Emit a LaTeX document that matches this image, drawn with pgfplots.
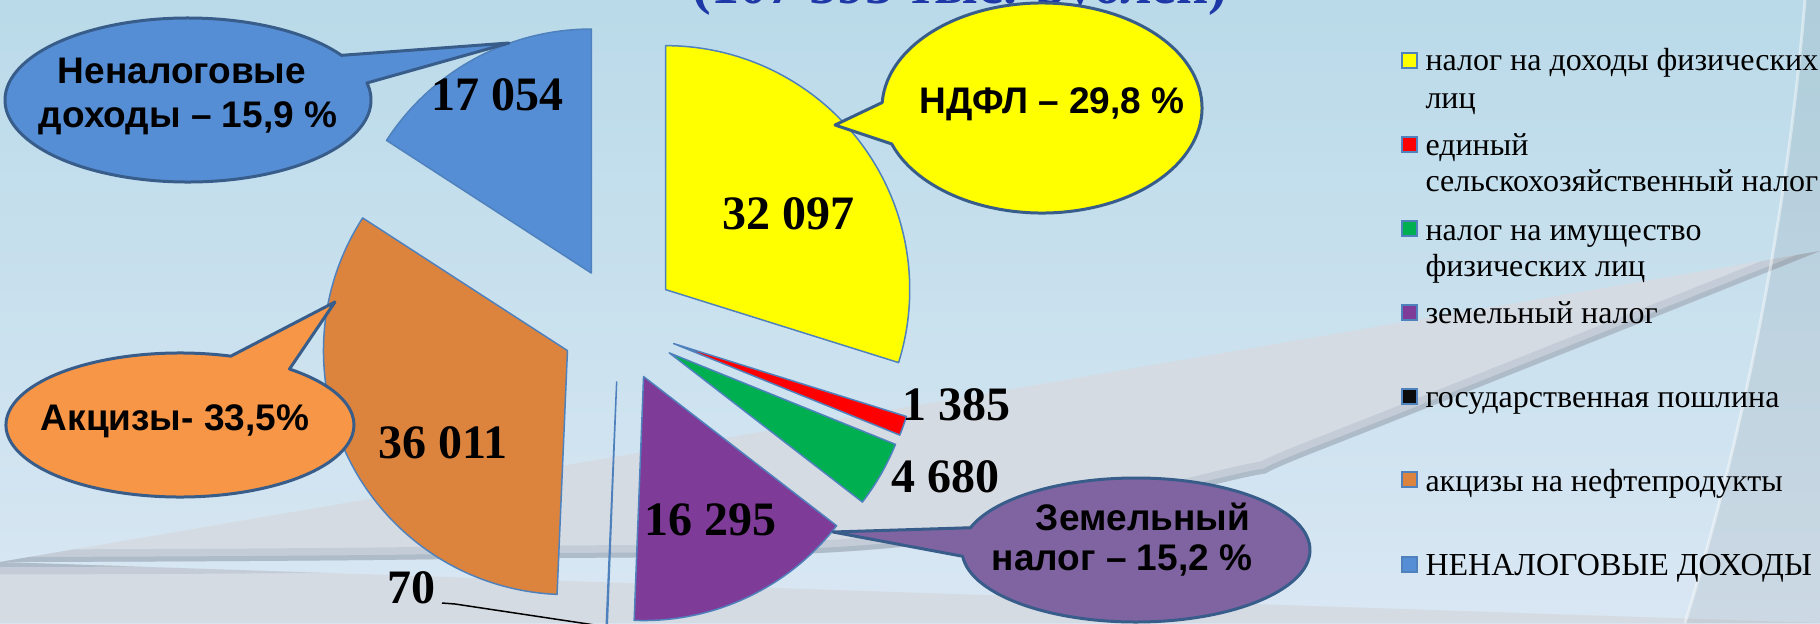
\documentclass[border=0pt]{standalone}
\usepackage{fontspec}
\setmainfont{Liberation Serif}
\newfontfamily\sansf{Liberation Sans}
\usepackage{pgfplots}
\usepackage{pgfplotstable}
\pgfplotsset{compat=1.18}

\definecolor{cYel}{RGB}{255,255,0}
\definecolor{cRed}{RGB}{255,0,0}
\definecolor{cGrn}{RGB}{0,176,80}
\definecolor{cPur}{RGB}{126,59,152}
\definecolor{cBlk}{RGB}{12,12,12}
\definecolor{cOra}{RGB}{220,132,62}
\definecolor{cBlu}{RGB}{85,142,213}
\definecolor{secedge}{RGB}{79,129,189}
\definecolor{callbd}{RGB}{56,93,138}
\definecolor{callOra}{RGB}{247,150,70}
\definecolor{callPur}{RGB}{128,100,162}
\definecolor{titleblue}{RGB}{31,56,168}
\definecolor{bgtop}{RGB}{186,218,233}
\definecolor{bgbot}{RGB}{217,231,243}
\definecolor{bglow}{RGB}{213,219,227}
\definecolor{bgshadow}{RGB}{160,175,190}

% 1 pixel of the reference = 0.4pt
\newcommand\valfont{\bfseries\fontsize{19.2}{20}\selectfont}
\newcommand\callfont{\sansf\bfseries\fontsize{14.8}{16}\selectfont}
\newcommand\legfont{\fontsize{12.8}{14}\selectfont}

% pie centre, explosion (pixels) and radius
\def\cx{619}
\def\cy{299}
\def\ex{58}
\def\rad{97.6pt}

\newcommand\slice[1]{%
  \edef\tmp{\noexpand\filldraw[fill=\csname co#1\endcsname, draw=secedge,
    line width=0.6pt, line join=round]
    (axis cs:\csname tx#1\endcsname,\csname ty#1\endcsname)
    -- ++(\csname sa#1\endcsname:\rad)
    arc[start angle=\csname sa#1\endcsname, end angle=\csname ea#1\endcsname, radius=\rad]
    -- cycle;}\tmp}

\newcommand\legentry[2]{% Y of marker top, colour
  \filldraw[fill=#2, draw=secedge, line width=0.5pt]
    (axis cs:1402,#1) rectangle (axis cs:1417,#1-15);}

\tikzset{
  bcurve/.style={insert path={plot[smooth, tension=0.6] coordinates {(0,61) (450,64) (900,76) (1233,143) (1320,173) (1820,372)}}},
}

\begin{document}
\begin{tikzpicture}
\pgfplotstableread{
value col
32097 cYel
1385  cRed
4680  cGrn
16295 cPur
70    cBlk
36011 cOra
17054 cBlu
}\pietable
% cumulative angles, clockwise from the top
\pgfplotstablegetrowsof{\pietable}%
\edef\nrows{\the\numexpr\pgfplotsretval-1\relax}%
\def\total{0}%
\pgfplotsforeachungrouped \i in {0,...,\nrows}{%
  \pgfplotstablegetelem{\i}{value}\of\pietable
  \edef\total{\fpeval{\total+\pgfplotsretval}}}%
\def\acur{90}%
\pgfplotsforeachungrouped \i in {0,...,\nrows}{%
  \pgfplotstablegetelem{\i}{value}\of\pietable
  \edef\anext{\fpeval{round(\acur-360*\pgfplotsretval/\total,4)}}%
  \expandafter\edef\csname sa\i\endcsname{\acur}%
  \expandafter\edef\csname ea\i\endcsname{\anext}%
  \expandafter\edef\csname tx\i\endcsname{\fpeval{round(\cx+\ex*cosd((\acur+\anext)/2),3)}}%
  \expandafter\edef\csname ty\i\endcsname{\fpeval{round(\cy+\ex*sind((\acur+\anext)/2),3)}}%
  \pgfplotstablegetelem{\i}{col}\of\pietable
  \expandafter\edef\csname co\i\endcsname{\pgfplotsretval}%
  \let\acur\anext}%

\begin{scope}
\clip (0,0) rectangle (728pt,249.2pt);
\begin{scope}[x=0.4pt, y=0.4pt]
  \shade[top color=bgtop, bottom color=bgbot] (0,0) rectangle (1820,623);
  \fill[bglow] (1820,0) -- (0,0) -- (0,61) [bcurve] -- cycle;
  \begin{scope}
    \clip (1820,0) -- (0,0) -- (0,61) [bcurve] -- cycle;
    \draw[bgshadow, line width=10pt, opacity=0.3] (0,61) [bcurve];
    \draw[bgshadow, line width=4pt, opacity=0.6] (0,61) [bcurve];
  \end{scope}
  \fill[black, opacity=0.06] (1805,623) .. controls (1785,380) and (1735,160) .. (1685,0) -- (1820,0) -- (1820,623) -- cycle;
  \draw[white, line width=1.2pt, opacity=0.45] (1805,623) .. controls (1785,380) and (1735,160) .. (1685,0);
\end{scope}

\begin{axis}[
    width=728pt, height=249.2pt, scale only axis,
    xmin=0, xmax=1820, ymin=0, ymax=623,
    hide axis, clip=false,
  ]
  % sectors
  \slice{0}\slice{1}\slice{2}\slice{3}\slice{4}\slice{5}\slice{6}

  % title (only its lower part is visible)
  \node[anchor=base, inner sep=0, text=titleblue, font=\bfseries\fontsize{22.4}{24}\selectfont]
    at (axis cs:960,620) {(107 593 тыс. рублей)};

  % value labels
  \node[inner sep=0, font=\valfont] at (axis cs:788,409) {32 097};
  \node[inner sep=0, font=\valfont] at (axis cs:497,528) {17 054};
  \node[inner sep=0, font=\valfont] at (axis cs:443,180) {36 011};
  \node[inner sep=0, font=\valfont] at (axis cs:710,103) {16 295};
  \node[inner sep=0, font=\valfont] at (axis cs:956,218) {1 385};
  \node[inner sep=0, font=\valfont] at (axis cs:945,146) {4 680};
  \node[inner sep=0, font=\valfont] at (axis cs:411,35) {70};
  \draw[black, line width=0.6pt] (axis cs:442,20) -- (axis cs:455,19) -- (axis cs:608,-4);

  % callouts
  \filldraw[fill=cBlu, draw=callbd, line width=1.2pt, line join=round]
    (axis cs:509,580) -- ([shift={(33:73.2pt and 32.8pt)}]axis cs:188,523)
    arc[start angle=33, end angle=372, x radius=73.2pt, y radius=32.8pt] -- cycle;
  \node[anchor=base, inner sep=0, font=\callfont] at (axis cs:182,540) {Неналоговые};
  \node[anchor=base, inner sep=0, font=\callfont] at (axis cs:188,496) {доходы – 15,9 \%};

  \filldraw[fill=cYel, draw=callbd, line width=1.2pt, line join=round]
    (axis cs:835,498) -- ([shift={(200:64pt and 42pt)}]axis cs:1042,515)
    arc[start angle=200, end angle=537, x radius=64pt, y radius=42pt] -- cycle;
  \node[anchor=base, inner sep=0, font=\callfont] at (axis cs:1052,510) {НДФЛ – 29,8 \%};

  \filldraw[fill=callOra, draw=callbd, line width=1.2pt, line join=round]
    (axis cs:335,321) -- ([shift={(73:69.6pt and 28.8pt)}]axis cs:180,198)
    arc[start angle=73, end angle=411, x radius=69.6pt, y radius=28.8pt] -- cycle;
  \node[anchor=base, inner sep=0, font=\callfont] at (axis cs:175,193) {Акцизы- 33,5\%};

  \filldraw[fill=callPur, draw=callbd, line width=1.2pt, line join=round]
    (axis cs:833,91) -- ([shift={(185:69.6pt and 28.8pt)}]axis cs:1136,73)
    arc[start angle=185, end angle=522, x radius=69.6pt, y radius=28.8pt] -- cycle;
  \node[anchor=base, inner sep=0, font=\callfont] at (axis cs:1143,93) {Земельный};
  \node[anchor=base, inner sep=0, font=\callfont] at (axis cs:1122,53) {налог – 15,2 \%};

  % legend
  \legentry{570}{\csname co0\endcsname}
  \legentry{486}{\csname co1\endcsname}
  \legentry{402}{\csname co2\endcsname}
  \legentry{318}{\csname co3\endcsname}
  \legentry{234}{\csname co4\endcsname}
  \legentry{151}{\csname co5\endcsname}
  \legentry{66}{\csname co6\endcsname}
  \begin{scope}[every node/.style={anchor=base west, inner sep=0, font=\legfont}]
    \node at (axis cs:1425,553) {налог на доходы физических};
    \node at (axis cs:1425,515) {лиц};
    \node at (axis cs:1425,468) {единый};
    \node at (axis cs:1425,432) {сельскохозяйственный налог};
    \node at (axis cs:1425,383) {налог на имущество};
    \node at (axis cs:1425,347) {физических лиц};
    \node at (axis cs:1425,300) {земельный налог};
    \node at (axis cs:1425,216) {государственная пошлина};
    \node at (axis cs:1425,132) {акцизы на нефтепродукты};
    \node at (axis cs:1425,48) {НЕНАЛОГОВЫЕ ДОХОДЫ};
  \end{scope}
\end{axis}
\end{scope}
\pgfresetboundingbox
\useasboundingbox (0,0) rectangle (728pt,249.2pt);
\end{tikzpicture}
\end{document}
